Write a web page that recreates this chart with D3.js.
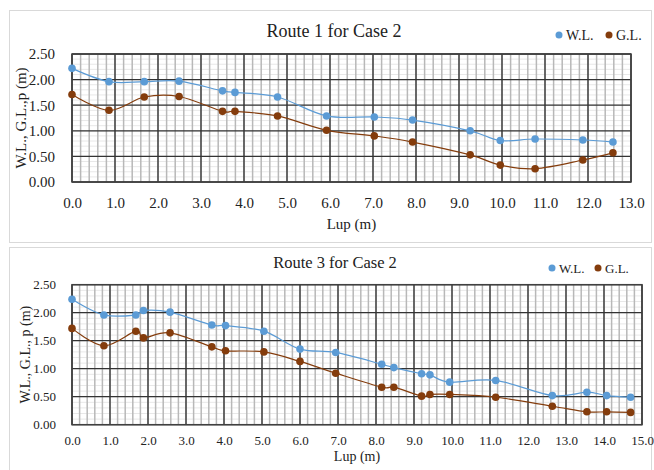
<!DOCTYPE html>
<html>
<head>
<meta charset="utf-8">
<script src="https://cdn.jsdelivr.net/npm/d3@7"></script>
<style>
  body { margin: 0; background: #fff; }
  svg { display: block; }
  text { font-family: "Liberation Serif", "Times New Roman", "DejaVu Serif", serif; }
</style>
</head>
<body>
<div id="chart"></div>
<script>
// Route 1 for Case 2
const route1Lup = [0.0, 0.86, 1.68, 2.49, 3.50, 3.79, 4.78, 5.92, 7.03, 7.92, 9.26, 9.96, 10.77, 11.88, 12.58];
const route1WL  = [2.22, 1.96, 1.96, 1.97, 1.78, 1.75, 1.66, 1.29, 1.27, 1.21, 1.00, 0.81, 0.84, 0.82, 0.78];
const route1GL  = [1.71, 1.40, 1.66, 1.67, 1.38, 1.38, 1.29, 1.01, 0.90, 0.78, 0.53, 0.33, 0.26, 0.43, 0.57];

// Route 3 for Case 2
const route3Lup = [0.0, 0.84, 1.68, 1.88, 2.58, 3.68, 4.04, 5.05, 6.00, 6.94, 8.15, 8.47, 9.20, 9.42, 9.94, 11.15, 12.64, 13.55, 14.07, 14.70];
const route3WL  = [2.24, 1.96, 1.96, 2.04, 2.01, 1.78, 1.77, 1.67, 1.35, 1.29, 1.08, 1.02, 0.91, 0.89, 0.76, 0.79, 0.52, 0.58, 0.52, 0.49];
const route3GL  = [1.72, 1.41, 1.67, 1.55, 1.64, 1.39, 1.32, 1.30, 1.13, 0.92, 0.67, 0.67, 0.51, 0.54, 0.54, 0.49, 0.33, 0.23, 0.23, 0.22];

const yTicks = [0, 0.5, 1.0, 1.5, 2.0, 2.5];
const xTicks1 = d3.range(0, 14, 1);
const xTicks2 = d3.range(0, 16, 1);
const seriesNames = ["W.L.", "G.L."];

const blue = "#5b9bd5", brown = "#843c0c";
const serif = "'Liberation Serif', 'Times New Roman', 'DejaVu Serif', serif";

const svg = d3.select("#chart").append("svg")
  .attr("width", 654)
  .attr("height", 470)
  .attr("font-family", serif);

function drawChart(cfg) {
  const g = svg.append("g");

  // chart frame
  g.append("rect")
    .attr("x", cfg.box[0]).attr("y", cfg.box[1])
    .attr("width", cfg.box[2]).attr("height", cfg.box[3])
    .attr("fill", "#fff").attr("stroke", "#d9d9d9");

  const x = d3.scaleLinear().domain([0, cfg.xMax]).range([cfg.left, cfg.right]);
  const y = d3.scaleLinear().domain([0, 2.5]).range([cfg.bottom, cfg.top]);

  // minor gridlines
  g.append("g").selectAll("line")
    .data(d3.range(0, 2.5001, 0.1))
    .join("line")
    .attr("x1", cfg.left).attr("x2", cfg.right)
    .attr("y1", d => y(d)).attr("y2", d => y(d))
    .attr("stroke", "#e8e8e8").attr("stroke-width", 1);

  g.append("g").selectAll("line")
    .data(d3.range(0, cfg.xMax + 0.001, 0.2))
    .join("line")
    .attr("x1", d => x(d)).attr("x2", d => x(d))
    .attr("y1", cfg.top).attr("y2", cfg.bottom)
    .attr("stroke", "#b8b8b8").attr("stroke-width", 1.5);

  // major gridlines
  g.append("g").selectAll("line")
    .data(yTicks)
    .join("line")
    .attr("x1", cfg.left).attr("x2", cfg.right)
    .attr("y1", d => y(d)).attr("y2", d => y(d))
    .attr("stroke", "#333").attr("stroke-width", 1.3);

  g.append("g").selectAll("line")
    .data(cfg.xTicks)
    .join("line")
    .attr("x1", d => x(d)).attr("x2", d => x(d))
    .attr("y1", cfg.top).attr("y2", cfg.bottom)
    .attr("stroke", "#333").attr("stroke-width", 1.3);

  g.append("rect")
    .attr("x", cfg.left).attr("y", cfg.top)
    .attr("width", cfg.right - cfg.left).attr("height", cfg.bottom - cfg.top)
    .attr("fill", "none").attr("stroke", "#404040").attr("stroke-width", 1.5);

  // series
  const line = d3.line()
    .x(d => x(d[0]))
    .y(d => y(d[1]))
    .curve(d3.curveCardinal.tension(0));

  const series = [
    { values: cfg.wl, color: blue },
    { values: cfg.gl, color: brown }
  ];
  series.forEach(s => {
    const pts = cfg.lup.map((v, i) => [v, s.values[i]]);
    g.append("path")
      .datum(pts)
      .attr("fill", "none")
      .attr("stroke", s.color)
      .attr("stroke-width", 1.2)
      .attr("d", line);
    g.append("g").selectAll("circle")
      .data(pts)
      .join("circle")
      .attr("cx", d => x(d[0]))
      .attr("cy", d => y(d[1]))
      .attr("r", 3.8)
      .attr("fill", s.color);
  });

  // axes
  const ya = g.append("g")
    .attr("transform", "translate(" + cfg.left + ",0)")
    .call(d3.axisLeft(y).tickValues(yTicks).tickFormat(d3.format(".2f")).tickSize(0).tickPadding(cfg.yPad));
  ya.select(".domain").remove();
  ya.attr("font-family", serif).attr("font-size", cfg.tickSize);
  ya.selectAll("text").attr("fill", "#222");

  const xa = g.append("g")
    .attr("transform", "translate(0," + cfg.bottom + ")")
    .call(d3.axisBottom(x).tickValues(cfg.xTicks).tickFormat(d3.format(".1f")).tickSize(0).tickPadding(cfg.xPad));
  xa.select(".domain").remove();
  xa.attr("font-family", serif).attr("font-size", cfg.tickSize);
  xa.selectAll("text").attr("fill", "#222");

  // titles
  g.append("text")
    .attr("x", cfg.titleX).attr("y", cfg.titleY)
    .attr("text-anchor", "middle")
    .attr("font-size", cfg.titleSize)
    .attr("fill", "#222")
    .text(cfg.title);

  g.append("text")
    .attr("x", (cfg.left + cfg.right) / 2).attr("y", cfg.xTitleY)
    .attr("text-anchor", "middle")
    .attr("font-size", cfg.labelSize)
    .attr("fill", "#222")
    .text("Lup (m)");

  g.append("text")
    .attr("transform", "translate(" + cfg.yTitleX + "," + ((cfg.top + cfg.bottom) / 2) + ") rotate(-90)")
    .attr("text-anchor", "middle")
    .attr("font-size", cfg.labelSize)
    .attr("fill", "#222")
    .text(cfg.yTitle);

  // legend
  const lg = g.append("g");
  [blue, brown].forEach((c, i) => {
    lg.append("circle")
      .attr("cx", cfg.legend[i]).attr("cy", cfg.legendY)
      .attr("r", 3.5).attr("fill", c);
    lg.append("text")
      .attr("x", cfg.legend[i] + 7).attr("y", cfg.legendY + 5)
      .attr("font-size", cfg.legendSize)
      .attr("fill", "#222")
      .text(seriesNames[i]);
  });
}

drawChart({
  box: [9.5, 10.5, 642, 232],
  left: 72, right: 631, top: 54, bottom: 182,
  xMax: 13, xTicks: xTicks1,
  lup: route1Lup, wl: route1WL, gl: route1GL,
  tickSize: 15, yPad: 17, xPad: 15,
  title: "Route 1 for Case 2", titleX: 334, titleY: 37, titleSize: 18,
  xTitleY: 229, yTitleX: 26, labelSize: 15,
  yTitle: "W.L., G.L.,p (m)",
  legend: [559, 609], legendY: 35, legendSize: 14
});

drawChart({
  box: [9.5, 247.5, 642, 230],
  left: 72, right: 642, top: 284.7, bottom: 424.7,
  xMax: 15, xTicks: xTicks2,
  lup: route3Lup, wl: route3WL, gl: route3GL,
  tickSize: 13, yPad: 16, xPad: 11,
  title: "Route 3 for Case 2", titleX: 335, titleY: 268, titleSize: 16.5,
  xTitleY: 461, yTitleX: 30, labelSize: 14,
  yTitle: "W.L., G.L., p (m)",
  legend: [552, 598], legendY: 268, legendSize: 13
});
</script>
</body>
</html>
